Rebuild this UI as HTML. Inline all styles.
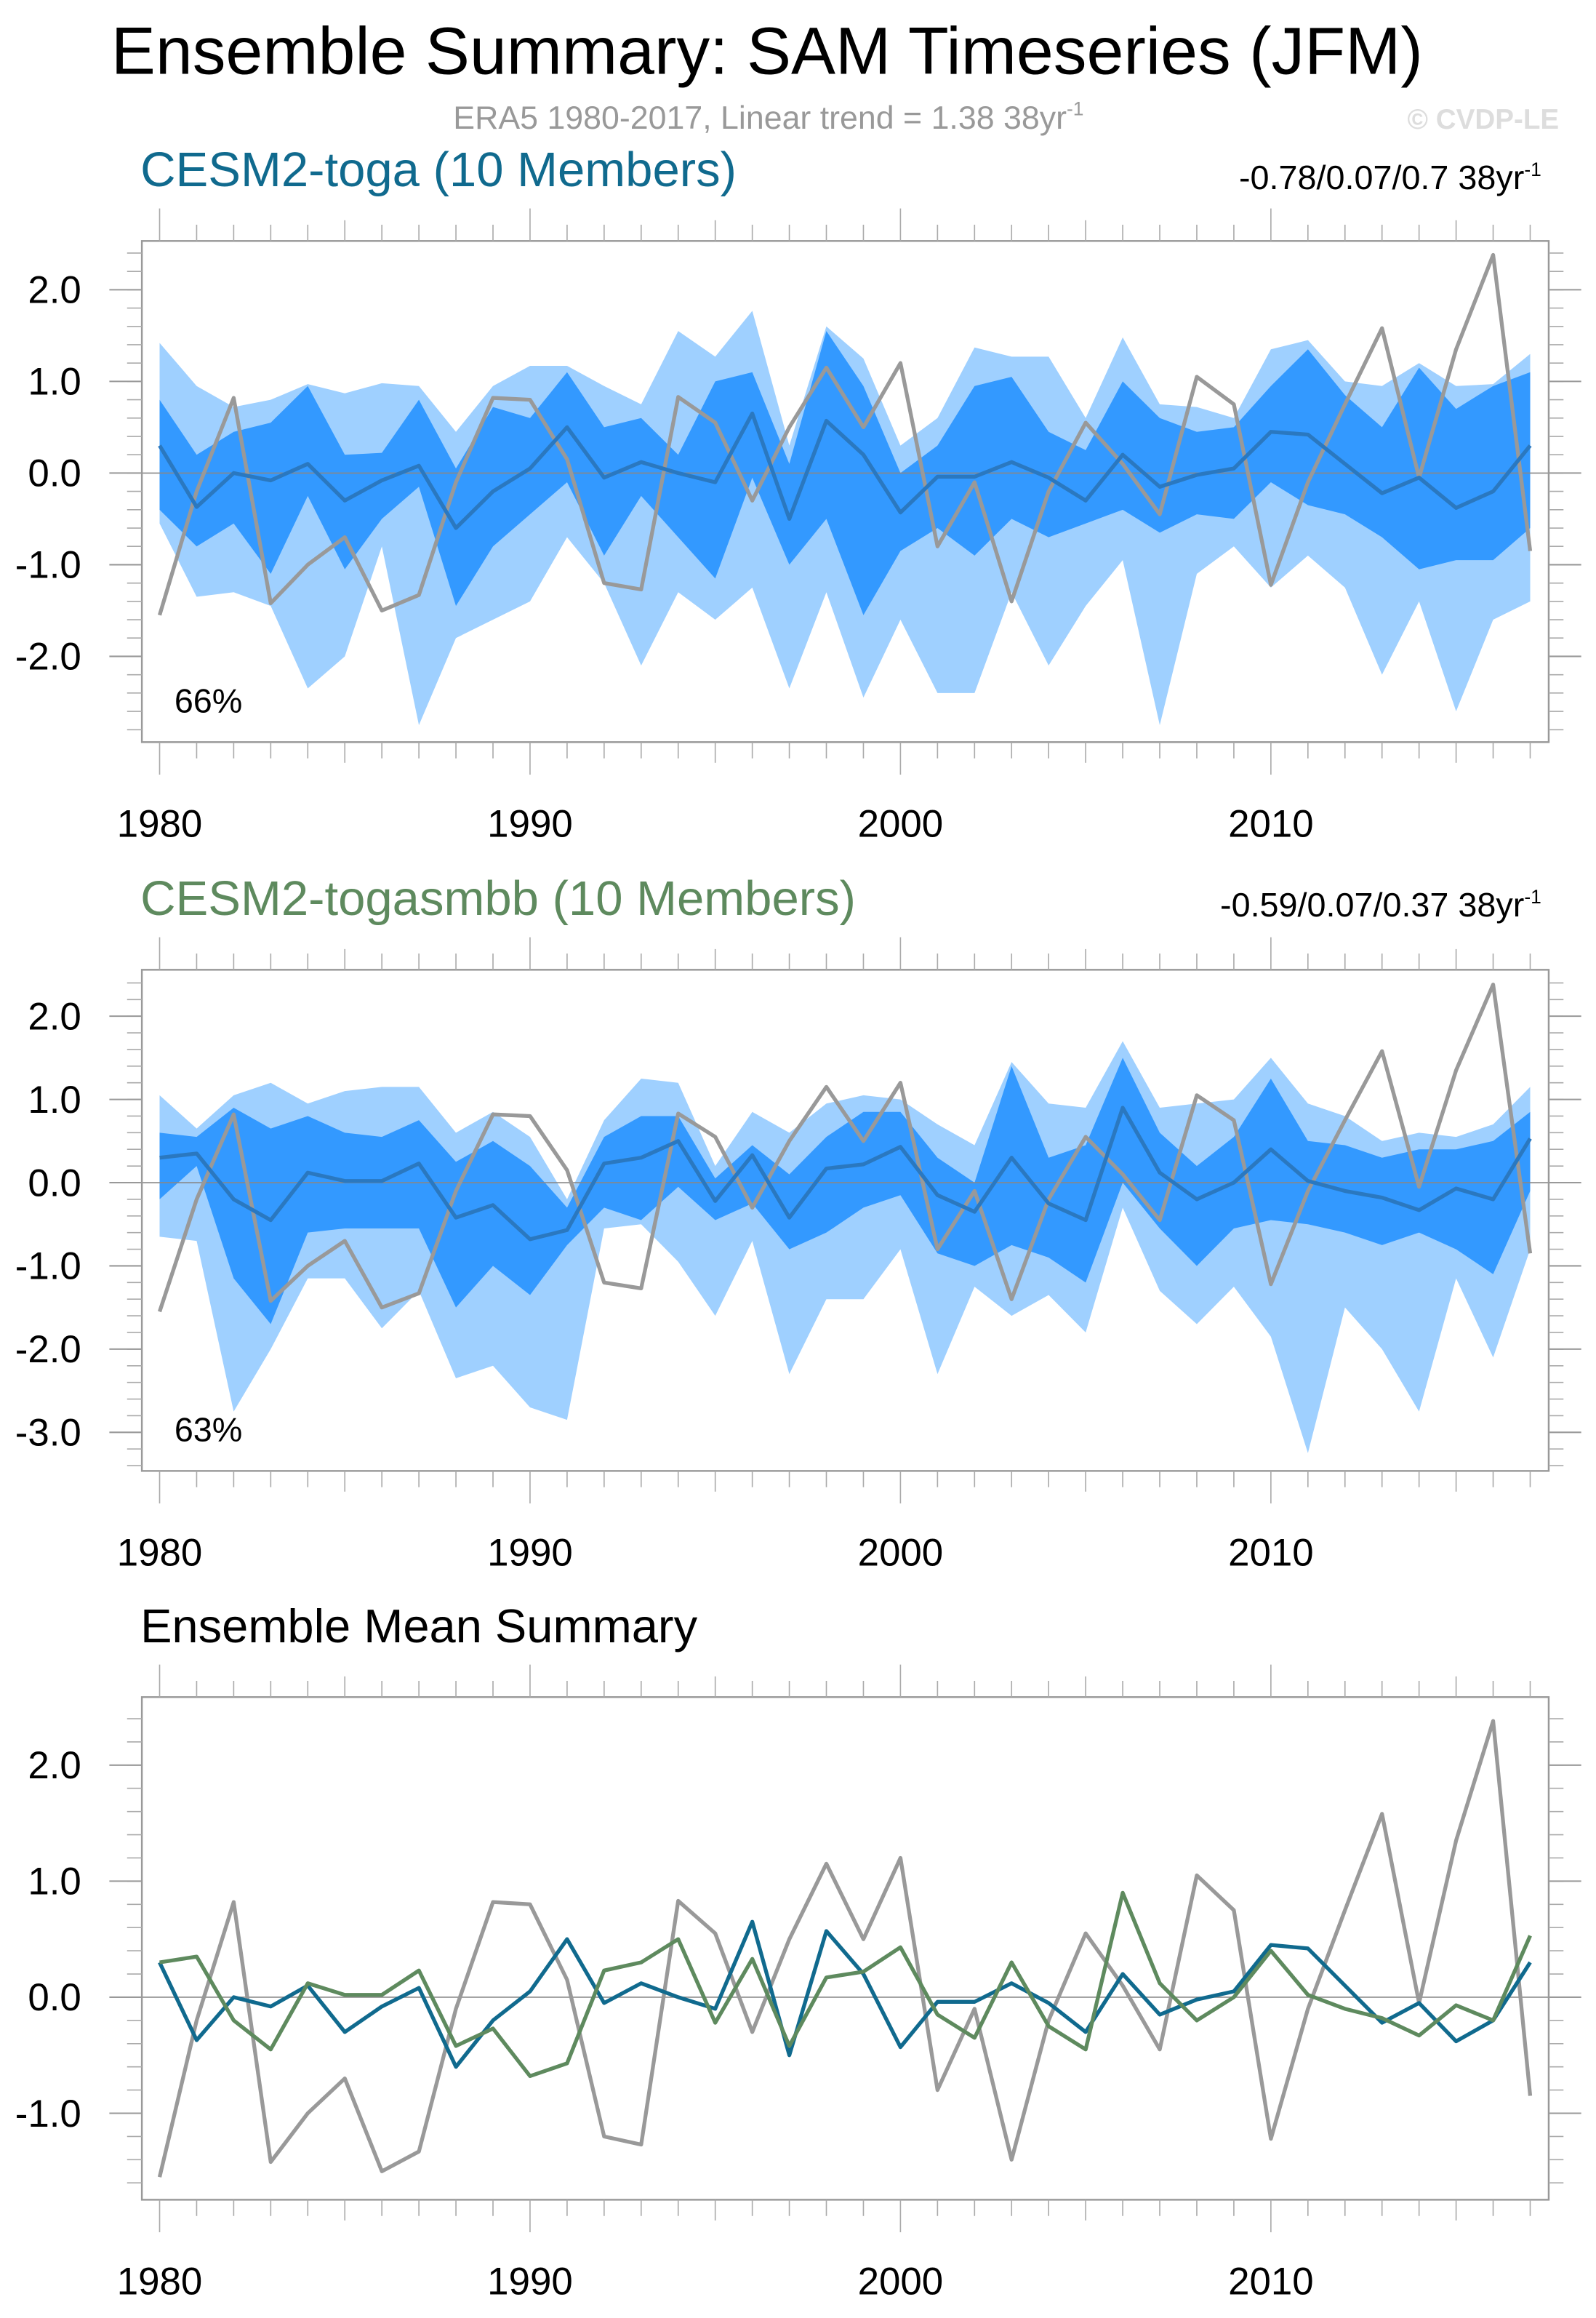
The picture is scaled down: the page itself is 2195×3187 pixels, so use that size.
<!DOCTYPE html>
<html><head><meta charset="utf-8"><style>
html,body{margin:0;padding:0;background:#fff;}
svg{display:block;font-family:"Liberation Sans",sans-serif;}
</style></head><body>
<svg id="chart" width="2195" height="3187" viewBox="0 0 1080 1568" preserveAspectRatio="none" xmlns="http://www.w3.org/2000/svg">
<text x="519" y="50" font-size="45" text-anchor="middle" fill="#000">Ensemble Summary: SAM Timeseries (JFM)</text>
<text x="520" y="87" font-size="22" text-anchor="middle" fill="#999">ERA5 1980-2017, Linear trend = 1.38 38yr<tspan font-size="13" dy="-9">-1</tspan></text>
<text x="1055" y="87" font-size="19" text-anchor="end" fill="#ddd" font-weight="bold">© CVDP-LE</text>
<text x="95" y="126" font-size="33" fill="#106a8e">CESM2-toga (10 Members)</text>
<text x="1043" y="128" font-size="23" text-anchor="end" fill="#000">-0.78/0.07/0.7 38yr<tspan font-size="13" dy="-9">-1</tspan></text>
<text x="95" y="619" font-size="33" fill="#5e8a5e">CESM2-togasmbb (10 Members)</text>
<text x="1043" y="620" font-size="23" text-anchor="end" fill="#000">-0.59/0.07/0.37 38yr<tspan font-size="13" dy="-9">-1</tspan></text>
<text x="95" y="1111" font-size="32" fill="#000">Ensemble Mean Summary</text>
<g id="plots"></g>
</svg>
<script>
const years = [];
for (let y = 1980; y <= 2017; y++) years.push(y);
const era5 = [-1.55,-0.2,0.82,-1.42,-1.0,-0.7,-1.5,-1.33,-0.1,0.82,0.8,0.15,-1.2,-1.27,0.83,0.55,-0.3,0.5,1.15,0.5,1.2,-0.8,-0.1,-1.4,-0.2,0.55,0.1,-0.45,1.05,0.75,-1.22,-0.1,0.75,1.58,-0.05,1.35,2.38,-0.85];
const togaMean = [0.3,-0.37,0.0,-0.08,0.1,-0.3,-0.08,0.08,-0.6,-0.2,0.05,0.5,-0.05,0.12,0.0,-0.1,0.65,-0.5,0.57,0.2,-0.43,-0.04,-0.04,0.12,-0.05,-0.3,0.2,-0.15,-0.02,0.05,0.45,0.42,0.1,-0.22,-0.05,-0.38,-0.2,0.3];
const smbbMean = [0.3,0.35,-0.2,-0.45,0.12,0.02,0.02,0.23,-0.42,-0.27,-0.68,-0.57,0.23,0.3,0.5,-0.22,0.33,-0.42,0.17,0.22,0.43,-0.15,-0.35,0.3,-0.25,-0.45,0.9,0.12,-0.2,0.0,0.4,0.02,-0.1,-0.18,-0.33,-0.07,-0.2,0.53];
const togaMax = [1.42,0.95,0.72,0.8,0.97,0.87,0.98,0.95,0.45,0.95,1.17,1.17,0.95,0.75,1.55,1.27,1.77,0.3,1.6,1.25,0.3,0.6,1.37,1.27,1.27,0.6,1.48,0.75,0.72,0.6,1.35,1.45,1.0,0.95,1.2,0.95,0.97,1.3];
const togaMin = [-0.55,-1.35,-1.3,-1.45,-2.35,-2.0,-0.8,-2.75,-1.8,-1.6,-1.4,-0.7,-1.2,-2.1,-1.3,-1.6,-1.25,-2.35,-1.3,-2.45,-1.6,-2.4,-2.4,-1.3,-2.1,-1.45,-0.95,-2.75,-1.1,-0.8,-1.25,-0.9,-1.25,-2.2,-1.4,-2.6,-1.6,-1.4];
const togaHi = [0.8,0.2,0.45,0.55,0.95,0.2,0.22,0.8,0.05,0.72,0.6,1.1,0.5,0.6,0.2,1.0,1.1,0.1,1.55,0.95,0.0,0.3,0.95,1.05,0.45,0.25,1.0,0.6,0.45,0.5,0.95,1.35,0.85,0.5,1.15,0.7,0.95,1.1];
const togaLo = [-0.4,-0.8,-0.55,-1.1,-0.25,-1.05,-0.5,-0.15,-1.45,-0.8,-0.45,-0.1,-0.9,-0.25,-0.7,-1.15,-0.05,-1.0,-0.5,-1.55,-0.85,-0.6,-0.9,-0.5,-0.7,-0.55,-0.4,-0.65,-0.45,-0.5,-0.1,-0.35,-0.45,-0.7,-1.05,-0.95,-0.95,-0.6];
const smbbMax = [1.05,0.65,1.05,1.2,0.95,1.1,1.15,1.15,0.6,0.85,0.55,-0.2,0.75,1.25,1.2,0.2,0.85,0.6,0.95,1.05,1.0,0.7,0.45,1.45,0.95,0.9,1.7,0.9,0.95,1.0,1.5,0.95,0.8,0.5,0.6,0.55,0.7,1.15];
const smbbMin = [-0.65,-0.7,-2.75,-2.0,-1.15,-1.15,-1.75,-1.3,-2.35,-2.2,-2.7,-2.85,-0.55,-0.5,-0.95,-1.6,-0.7,-2.3,-1.4,-1.4,-0.8,-2.3,-1.25,-1.6,-1.35,-1.8,-0.3,-1.3,-1.7,-1.25,-1.85,-3.25,-1.5,-2.0,-2.75,-1.15,-2.1,-0.8];
const smbbHi = [0.6,0.55,0.9,0.65,0.8,0.6,0.55,0.75,0.25,0.5,0.2,-0.3,0.55,0.8,0.8,0.05,0.45,0.1,0.55,0.85,0.85,0.3,0.0,1.4,0.3,0.45,1.5,0.6,0.2,0.55,1.25,0.5,0.45,0.3,0.4,0.4,0.5,0.85];
const smbbLo = [-0.2,0.2,-1.15,-1.7,-0.6,-0.55,-0.55,-0.55,-1.5,-1.0,-1.35,-0.75,-0.3,-0.45,-0.05,-0.45,-0.25,-0.8,-0.6,-0.3,-0.15,-0.85,-1.0,-0.75,-0.9,-1.2,0.0,-0.55,-1.0,-0.55,-0.45,-0.5,-0.6,-0.75,-0.6,-0.8,-1.1,-0.1];
const xTickLabels = [1980,1990,2000,2010];

const NS = "http://www.w3.org/2000/svg";
const root = document.getElementById('plots');
function el(tag, attrs, parent){ const e=document.createElementNS(NS,tag); for(const k in attrs) e.setAttribute(k,attrs[k]); (parent||root).appendChild(e); return e; }
const X0=96, X1=1048;
const xs = y => 108 + (y-1980)*(860-108)/30;

function panel(name, top, bot, y0px, unit, yTicks, yMinorStep, yMinorMin, yMinorMax, bands, lines, pct){
  const g = el('g',{});
  
  
  const ys = v => y0px - v*unit;
  const clipId = name+'-clip';
  const cp = el('clipPath',{id:clipId},g); el('rect',{x:X0,y:top,width:X1-X0,height:bot-top},cp);
  const inner = el('g',{'clip-path':'url(#'+clipId+')'},g);
  bands.forEach(b=>{
    let d='';
    years.forEach((yr,i)=>{ d+=(i?'L':'M')+xs(yr).toFixed(2)+','+ys(b.hi[i]).toFixed(2); });
    for(let i=years.length-1;i>=0;i--) d+='L'+xs(years[i]).toFixed(2)+','+ys(b.lo[i]).toFixed(2);
    const p = el('path',{d:d+'Z',fill:b.color,stroke:'none'},inner);
    
    
  });
  el('line',{x1:X0,x2:X1,y1:ys(0),y2:ys(0),stroke:'#888','stroke-width':0.8},inner);
  lines.forEach(l=>{
    const pts = years.map((yr,i)=>xs(yr).toFixed(2)+','+ys(l.data[i]).toFixed(2)).join(' ');
    const p = el('polyline',{points:pts,fill:'none',stroke:l.color,'stroke-width':2.6,'stroke-linejoin':'round'},inner);
    
    
  });
  el('rect',{x:X0,y:top,width:X1-X0,height:bot-top,fill:'none',stroke:'#999','stroke-width':1.2},g);
  years.forEach(yr=>{
    const major = (yr%10===0), mid=(yr%5===0);
    const len = major?22:(mid?14:11);
    el('line',{x1:xs(yr),x2:xs(yr),y1:top,y2:top-len,stroke:'#aaa','stroke-width':0.8},g);
    el('line',{x1:xs(yr),x2:xs(yr),y1:bot,y2:bot+len,stroke:'#aaa','stroke-width':0.8},g);
  });
  xTickLabels.forEach(t=>{
    const tx = el('text',{x:xs(t),y:bot+64,'font-size':26,'text-anchor':'middle',fill:'#000'},g);
    tx.textContent = t;
    
    
  });
  for(let v=yMinorMin; v<=yMinorMax+1e-6; v+=yMinorStep){
    const yy = ys(v); if(yy<top||yy>bot) continue;
    el('line',{x1:X0,x2:X0-10,y1:yy,y2:yy,stroke:'#aaa','stroke-width':0.8},g);
    el('line',{x1:X1,x2:X1+10,y1:yy,y2:yy,stroke:'#aaa','stroke-width':0.8},g);
  }
  yTicks.forEach(v=>{
    const yy=ys(v);
    el('line',{x1:X0,x2:X0-22,y1:yy,y2:yy,stroke:'#999','stroke-width':1},g);
    el('line',{x1:X1,x2:X1+22,y1:yy,y2:yy,stroke:'#999','stroke-width':1},g);
    const tx = el('text',{x:55,y:yy+9,'font-size':26,'text-anchor':'end',fill:'#000'},g);
    tx.textContent = v.toFixed(1);
    
    
  });
  if(pct){
    const tx = el('text',{x:118,y:bot-20,'font-size':23,fill:'#000'},g);
    tx.textContent = pct;
    
    
  }
}
const LIGHT='#9fd0ff', DARK='#3399ff', TOGA='#106a8e', SMBB='#5e8a5e', GRAY='#999999';
panel('panel-toga',163,502,320,62,[2,1,0,-1,-2],0.2,-2.8,2.8,
  [{name:'toga-minmax-band',hi:togaMax,lo:togaMin,color:LIGHT},{name:'toga-inner-band',hi:togaHi,lo:togaLo,color:DARK}],
  [{name:'era5-line',data:era5,color:GRAY},{name:'toga-mean-line',data:togaMean,color:'#2a78c0'}],'66%');
panel('panel-togasmbb',656,995,800,56.3,[2,1,0,-1,-2,-3],0.2,-3.4,2.8,
  [{name:'smbb-minmax-band',hi:smbbMax,lo:smbbMin,color:LIGHT},{name:'smbb-inner-band',hi:smbbHi,lo:smbbLo,color:DARK}],
  [{name:'era5-line',data:era5,color:GRAY},{name:'smbb-mean-line',data:smbbMean,color:'#2a78c0'}],'63%');
panel('panel-ensemble-mean',1148,1488,1351,78.5,[2,1,0,-1],0.2,-1.8,2.8,[],
  [{name:'era5-line',data:era5,color:GRAY},{name:'toga-mean-line',data:togaMean,color:TOGA},{name:'smbb-mean-line',data:smbbMean,color:SMBB}],null);
</script>
</body></html>
